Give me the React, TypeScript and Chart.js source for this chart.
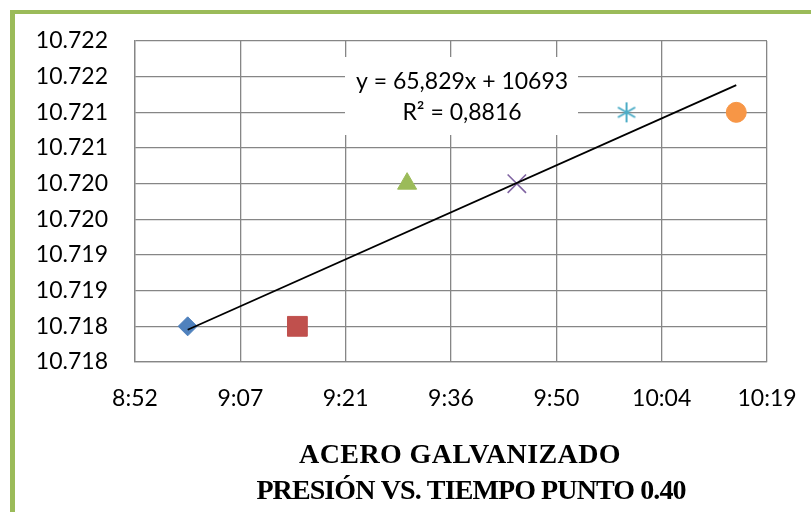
import React, { useEffect, useRef } from "react";
import { Chart, registerables } from "chart.js";

Chart.register(...registerables);

// ---- data ----
const times = ["9:00", "9:15", "9:30", "9:45", "10:00", "10:15"];
const pressures = [10718, 10718, 10720, 10720, 10721, 10721];
const seriesColors = ["#4F81BD", "#C0504D", "#9BBB59", "#8064A2", "#4BACC6", "#F79646"];
const yTickLabels = ["10.718", "10.718", "10.719", "10.719", "10.720", "10.720", "10.721", "10.721", "10.722", "10.722"];
const xTickLabels = ["8:52", "9:07", "9:21", "9:36", "9:50", "10:04", "10:19"];
const equationLines = ["y = 65,829x + 10693", "R² = 0,8816"];
const titleLines = ["ACERO GALVANIZADO", "PRESIÓN VS. TIEMPO PUNTO 0.40"];

// x expressed in hundredths of a day (Excel time axis with 0.01-day steps)
const toX = (t: string) => {
  const [h, m] = t.split(":").map(Number);
  return ((h * 60 + m) / 1440) * 100;
};

function makeAsterisk(color: string): HTMLCanvasElement {
  const c = document.createElement("canvas");
  c.width = 24;
  c.height = 24;
  const ctx = c.getContext("2d")!;
  ctx.strokeStyle = color;
  ctx.lineWidth = 2;
  const cx = 12, cy = 12, r = 10;
  ctx.beginPath();
  ctx.moveTo(cx, cy - r); ctx.lineTo(cx, cy + r);
  ctx.moveTo(cx - r * 0.866, cy - r * 0.5); ctx.lineTo(cx + r * 0.866, cy + r * 0.5);
  ctx.moveTo(cx - r * 0.866, cy + r * 0.5); ctx.lineTo(cx + r * 0.866, cy - r * 0.5);
  ctx.stroke();
  return c;
}

export default function App() {
  const ref = useRef<HTMLCanvasElement>(null);

  useEffect(() => {
    const xs = times.map(toX);
    const n = xs.length;
    const mx = xs.reduce((a, b) => a + b, 0) / n;
    const my = pressures.reduce((a, b) => a + b, 0) / n;
    let sxy = 0, sxx = 0;
    xs.forEach((x, i) => { sxy += (x - mx) * (pressures[i] - my); sxx += (x - mx) ** 2; });
    const slope = sxy / sxx;
    const icpt = my - slope * mx;
    const trend = [xs[0], xs[n - 1]].map((x) => ({ x, y: icpt + slope * x }));

    const styles: any[] = [
      { pointStyle: "rectRot", radius: 9.5 },
      { pointStyle: "rect", radius: 14 },
      { pointStyle: "triangle", radius: 11 },
      { pointStyle: "crossRot", radius: 13, bw: 1.6 },
      { pointStyle: makeAsterisk(seriesColors[4]), radius: 10 },
      { pointStyle: "circle", radius: 10 },
    ];

    const pointSets = xs.map((x, i) => ({
      type: "scatter" as const,
      data: [{ x, y: pressures[i] }],
      backgroundColor: seriesColors[i],
      borderColor: seriesColors[i],
      borderWidth: styles[i].bw ?? 1,
      pointStyle: styles[i].pointStyle,
      pointRadius: styles[i].radius,
      pointHoverRadius: styles[i].radius,
    }));

    const deco = {
      id: "deco",
      beforeDraw(chart: any) {
        const ctx = chart.ctx;
        ctx.save();
        ctx.fillStyle = "#ffffff";
        ctx.fillRect(0, 0, chart.width, chart.height);
        ctx.fillStyle = "#9BBB59";
        ctx.fillRect(10, 10, chart.width - 10, 4);
        ctx.fillRect(10, 10, 5, chart.height - 10);
        ctx.restore();
      },
      afterDraw(chart: any) {
        const ctx = chart.ctx;
        ctx.save();
        ctx.fillStyle = "#ffffff";
        ctx.fillRect(345, 57, 233, 78);
        ctx.fillStyle = "#000000";
        ctx.textAlign = "center";
        ctx.textBaseline = "middle";
        ctx.font = "23px Lato";
        ctx.fillText(equationLines[0], 462, 82);
        ctx.fillText(equationLines[1], 462, 113);
        ctx.font = "bold 28px 'Liberation Serif'";
        ctx.textBaseline = "alphabetic";
        (ctx as any).letterSpacing = "0.4px";
        ctx.fillText(titleLines[0], 460, 463);
        (ctx as any).letterSpacing = "-0.9px";
        ctx.fillText(titleLines[1], 471, 499);
        ctx.restore();
      },
    };

    const chart = new Chart(ref.current!, {
      type: "scatter",
      data: {
        datasets: [
          {
            type: "line" as const,
            data: trend,
            borderColor: "#000000",
            borderWidth: 1.8,
            pointRadius: 0,
            showLine: true,
            fill: false,
          } as any,
          ...pointSets,
        ],
      },
      options: {
        animation: false,
        responsive: false,
        devicePixelRatio: 1,
        layout: { padding: { left: 0, top: 41, right: 44, bottom: 90 } },
        plugins: { legend: { display: false }, tooltip: { enabled: false }, title: { display: false } },
        scales: {
          x: {
            type: "linear",
            min: 37,
            max: 43,
            afterFit: (s: any) => { s.height = 60; s.paddingRight = 0; s.paddingLeft = 0; },
            afterBuildTicks: (s: any) => {
              s.ticks = xTickLabels.map((_, i) => ({ value: 37 + i }));
            },
            grid: { color: "#868686", lineWidth: 1.3, drawTicks: false },
            border: { color: "#868686", width: 1.3 },
            ticks: {
              padding: 23,
              color: "#000000",
              font: { family: "Lato", size: 23 },
              callback: (_v: any, i: number) => xTickLabels[i],
              maxRotation: 0,
              autoSkip: false,
            },
          },
          y: {
            type: "linear",
            min: 10717.5,
            max: 10722,
            afterFit: (s: any) => { s.width = 135; s.paddingTop = 0; s.paddingBottom = 0; },
            afterBuildTicks: (s: any) => {
              s.ticks = yTickLabels.map((_, i) => ({ value: 10717.5 + i * 0.5 }));
            },
            grid: { color: "#868686", lineWidth: 1.3, drawTicks: false },
            border: { color: "#868686", width: 1.3 },
            ticks: {
              padding: 27,
              color: "#000000",
              font: { family: "Lato", size: 23 },
              callback: (_v: any, i: number) => yTickLabels[i],
              autoSkip: false,
            },
          },
        },
      },
      plugins: [deco],
    });
    return () => chart.destroy();
  }, []);

  return (
    <div style={{ position: "fixed", left: 0, top: 0, width: 811, height: 512, overflow: "hidden", background: "#fff" }}>
      <canvas ref={ref} width={811} height={512} style={{ display: "block", width: 811, height: 512 }} />
    </div>
  );
}
